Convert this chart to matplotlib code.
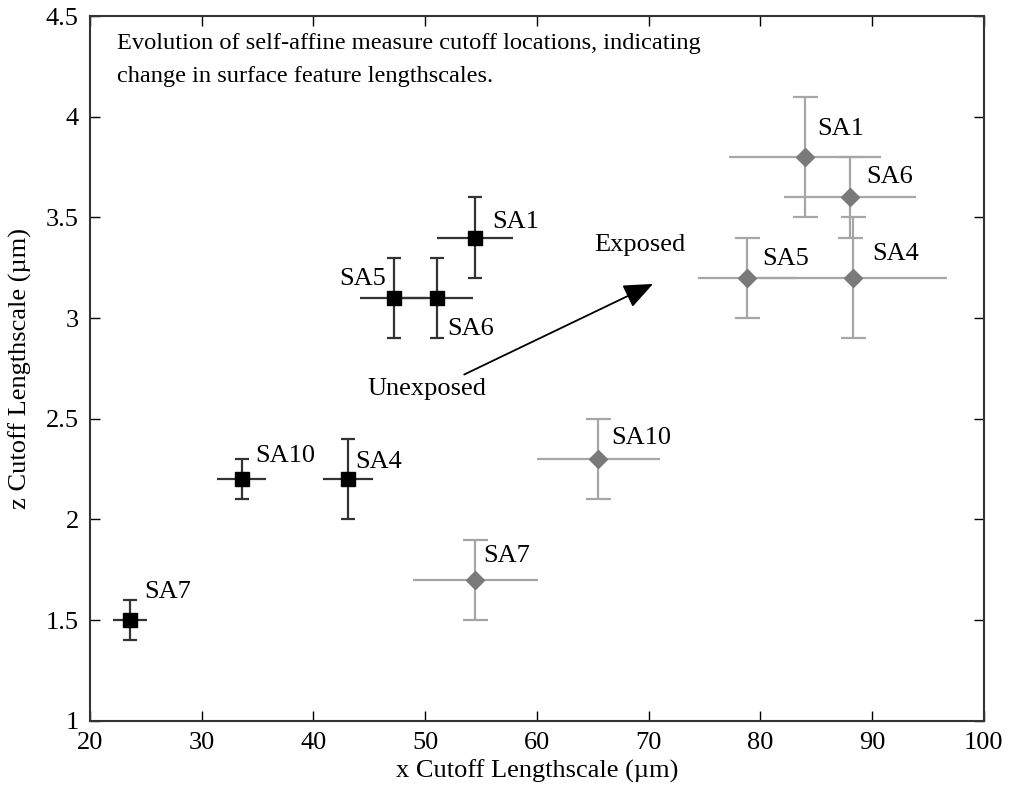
import matplotlib
matplotlib.use('Agg')
import matplotlib.pyplot as plt
import numpy as np

plt.rcParams['font.family'] = ['Liberation Serif', 'DejaVu Serif']

# Unexposed samples (black squares)
unexp_names = ['SA7', 'SA10', 'SA4', 'SA1', 'SA5', 'SA6']
unexp_x = [23.6, 33.6, 43.1, 54.5, 47.2, 51.1]
unexp_z = [1.5, 2.2, 2.2, 3.4, 3.1, 3.1]
unexp_xerr = [1.5, 2.2, 2.2, 3.4, 3.0, 3.2]
unexp_zerr = [0.1, 0.1, 0.2, 0.2, 0.2, 0.2]

# Exposed samples (grey diamonds)
exp_names = ['SA7', 'SA10', 'SA5', 'SA4', 'SA6', 'SA1']
exp_x = [54.5, 65.5, 78.8, 88.3, 88.0, 84.0]
exp_z = [1.7, 2.3, 3.2, 3.2, 3.6, 3.8]
exp_xerr = [5.6, 5.5, 4.4, 8.4, 5.9, 6.8]
exp_zerr = [0.2, 0.2, 0.2, 0.3, 0.2, 0.3]

# label anchor points (data coords)
unexp_lab = {'SA7': (24.9, 1.61), 'SA10': (34.8, 2.286), 'SA4': (43.77, 2.253),
             'SA1': (56.0, 3.45), 'SA5': (46.48, 3.164), 'SA6': (51.96, 2.915)}
exp_lab = {'SA7': (55.24, 1.789), 'SA10': (66.66, 2.377), 'SA5': (80.17, 3.263),
           'SA4': (90.0, 3.288), 'SA6': (89.47, 3.672), 'SA1': (85.14, 3.909)}

fig = plt.figure(figsize=(10.11, 7.97), dpi=100)
ax = fig.add_axes([0.089, 0.0957, 0.884, 0.884])

fs = 19
grey_line = '#a6a6a6'
grey_mark = '#7a7a7a'
dark = '#333333'

# exposed: horizontal bars without caps, vertical bars with caps
ax.errorbar(exp_x, exp_z, xerr=exp_xerr, fmt='none', ecolor=grey_line,
            elinewidth=1.6, capsize=0)
ax.errorbar(exp_x, exp_z, yerr=exp_zerr, fmt='none', ecolor=grey_line,
            elinewidth=1.6, capsize=9, capthick=1.6)
ax.plot(exp_x, exp_z, 'D', color=grey_mark, markersize=9, zorder=3)

# unexposed
ax.errorbar(unexp_x, unexp_z, xerr=unexp_xerr, fmt='none', ecolor=dark,
            elinewidth=1.6, capsize=0)
ax.errorbar(unexp_x, unexp_z, yerr=unexp_zerr, fmt='none', ecolor=dark,
            elinewidth=1.6, capsize=5, capthick=1.6)
ax.plot(unexp_x, unexp_z, 's', color='black', markersize=10, zorder=3)

for name in unexp_names:
    lx, ly = unexp_lab[name]
    ha = 'right' if name == 'SA5' else 'left'
    ax.text(lx, ly, name, fontsize=fs, ha=ha, va='baseline')
for name in exp_names:
    lx, ly = exp_lab[name]
    ax.text(lx, ly, name, fontsize=fs, ha='left', va='baseline')

ax.annotate('', xy=(70.4, 3.17), xytext=(53.5, 2.72),
            arrowprops=dict(arrowstyle='-|>,head_length=0.6,head_width=0.25',
                            color='black', lw=1.3,
                            mutation_scale=30, shrinkA=0, shrinkB=0))
ax.text(65.17, 3.333, 'Exposed', fontsize=fs, ha='left', va='baseline')
ax.text(44.87, 2.617, 'Unexposed', fontsize=fs, ha='left', va='baseline')

ax.text(22.4, 4.415, 'Evolution of self-affine measure cutoff locations, indicating\n'
        'change in surface feature lengthscales.', fontsize=17.6, ha='left', va='top',
        linespacing=1.75)

ax.set_xlim(20, 100)
ax.set_ylim(1, 4.5)
ax.set_xticks(np.arange(20, 101, 10))
ax.set_yticks(np.arange(1, 4.51, 0.5))
ax.set_yticklabels(['1', '1.5', '2', '2.5', '3', '3.5', '4', '4.5'])
ax.tick_params(direction='in', length=7, width=1, top=True, right=True,
               labelsize=fs, pad=8)
for sp in ax.spines.values():
    sp.set_linewidth(1.5)
    sp.set_color(dark)

ax.set_xlabel('x Cutoff Lengthscale (µm)', fontsize=fs, labelpad=4)
ax.set_ylabel('z Cutoff Lengthscale (µm)', fontsize=fs, labelpad=10)

plt.savefig('out.png', dpi=100)
plt.close()
